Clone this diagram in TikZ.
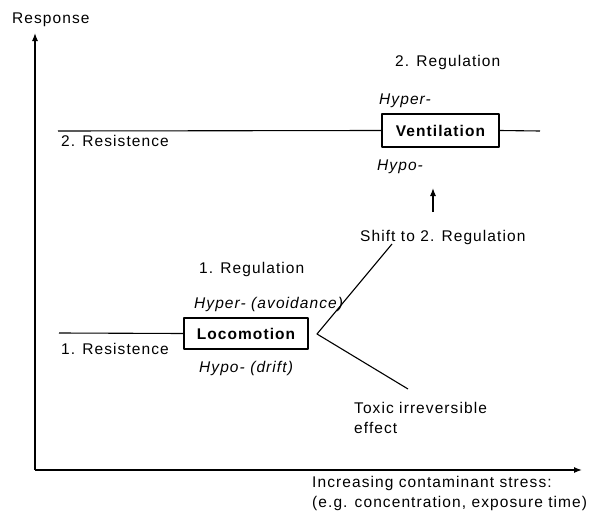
\documentclass[tikz,border=0pt]{standalone}
\usepackage{fontspec}
\setmainfont{Liberation Sans}[LetterSpace=7]
\usetikzlibrary{arrows.meta}
\begin{document}
\begin{tikzpicture}[x=1pt,y=-1pt,>={Latex[length=8pt,width=6pt]},line join=round,font=\fontsize{15.5}{18}\selectfont,
	lbl/.style={inner sep=0pt,anchor=mid west,yshift=-2.5pt},
	organ/.style={draw,line width=1.1pt,inner sep=0pt,font=\fontsize{15.5}{18}\selectfont\bfseries}]
	\useasboundingbox (0,0) rectangle (590,514);
	% Achsen
	\coordinate (O) at (35,470);
	\coordinate (ytop) at (35,33);
	\coordinate (xend) at (582,470);
	\draw[->,line width=1.3pt] (O)--(ytop);
	\draw[->,line width=1.3pt] (O)--(xend);
	\node[lbl] (resp) at (12,18) {Response};
	\node[lbl] (stressa) at (312,482) {Increasing contaminant stress:};
	\node[lbl] (stressb) at (312,502) {(e.g. concentration, exposure time)};
	
	% Stufe 2
	\node[organ,minimum width=117,minimum height=33] (vent) at (440.5,130.5) {Ventilation};
	\coordinate (resa) at (58,131); \coordinate (resb) at (540,131);
	\draw[line width=1.1pt] (resa)--(vent.west);
	\draw[line width=1.1pt] (vent.east)--(resb);
	\node[lbl] (res2) at (61,141) {2. Resistence};
	\node[lbl] (reg2) at (395,61) {2. Regulation};
	\node[lbl] (hyper2) at (379,99) {\itshape Hyper-};
	\node[lbl] (hypo2) at (377,165) {\itshape Hypo-};
	\node[lbl] (shift) at (360,236) {Shift to 2. Regulation};
	\coordinate (upa) at (433,212); \coordinate (upb) at (433,188);
	\draw[->,line width=1.1pt] (upa)--(upb);
	
	% Stufe 1
	\node[organ,minimum width=124,minimum height=31] (loco) at (246,333.5) {Locomotion};
	\coordinate (resc) at (59,333);
	\draw[line width=1.1pt] (resc)--(loco.west);
	\node[lbl] (res1) at (61,349) {1. Resistence};
	\node[lbl] (reg1) at (199,268) {1. Regulation};
	\node[lbl] (hyper1) at (194,303) {\itshape Hyper- (avoidance)};
	\node[lbl] (hypo1) at (199,367) {\itshape Hypo- (drift)};
	\node[lbl] (toxa) at (354,408) {Toxic irreversible};
	\node[lbl] (toxb) at (354,428) {effect};
	
	% Verzweigung
	\coordinate (fork) at (317,334);
	\coordinate (shiftend) at (392,244);
	\coordinate (toxend) at (408,389);
	\draw[line width=1.1pt] (shiftend)--(fork)--(toxend);
\end{tikzpicture}
\end{document}
